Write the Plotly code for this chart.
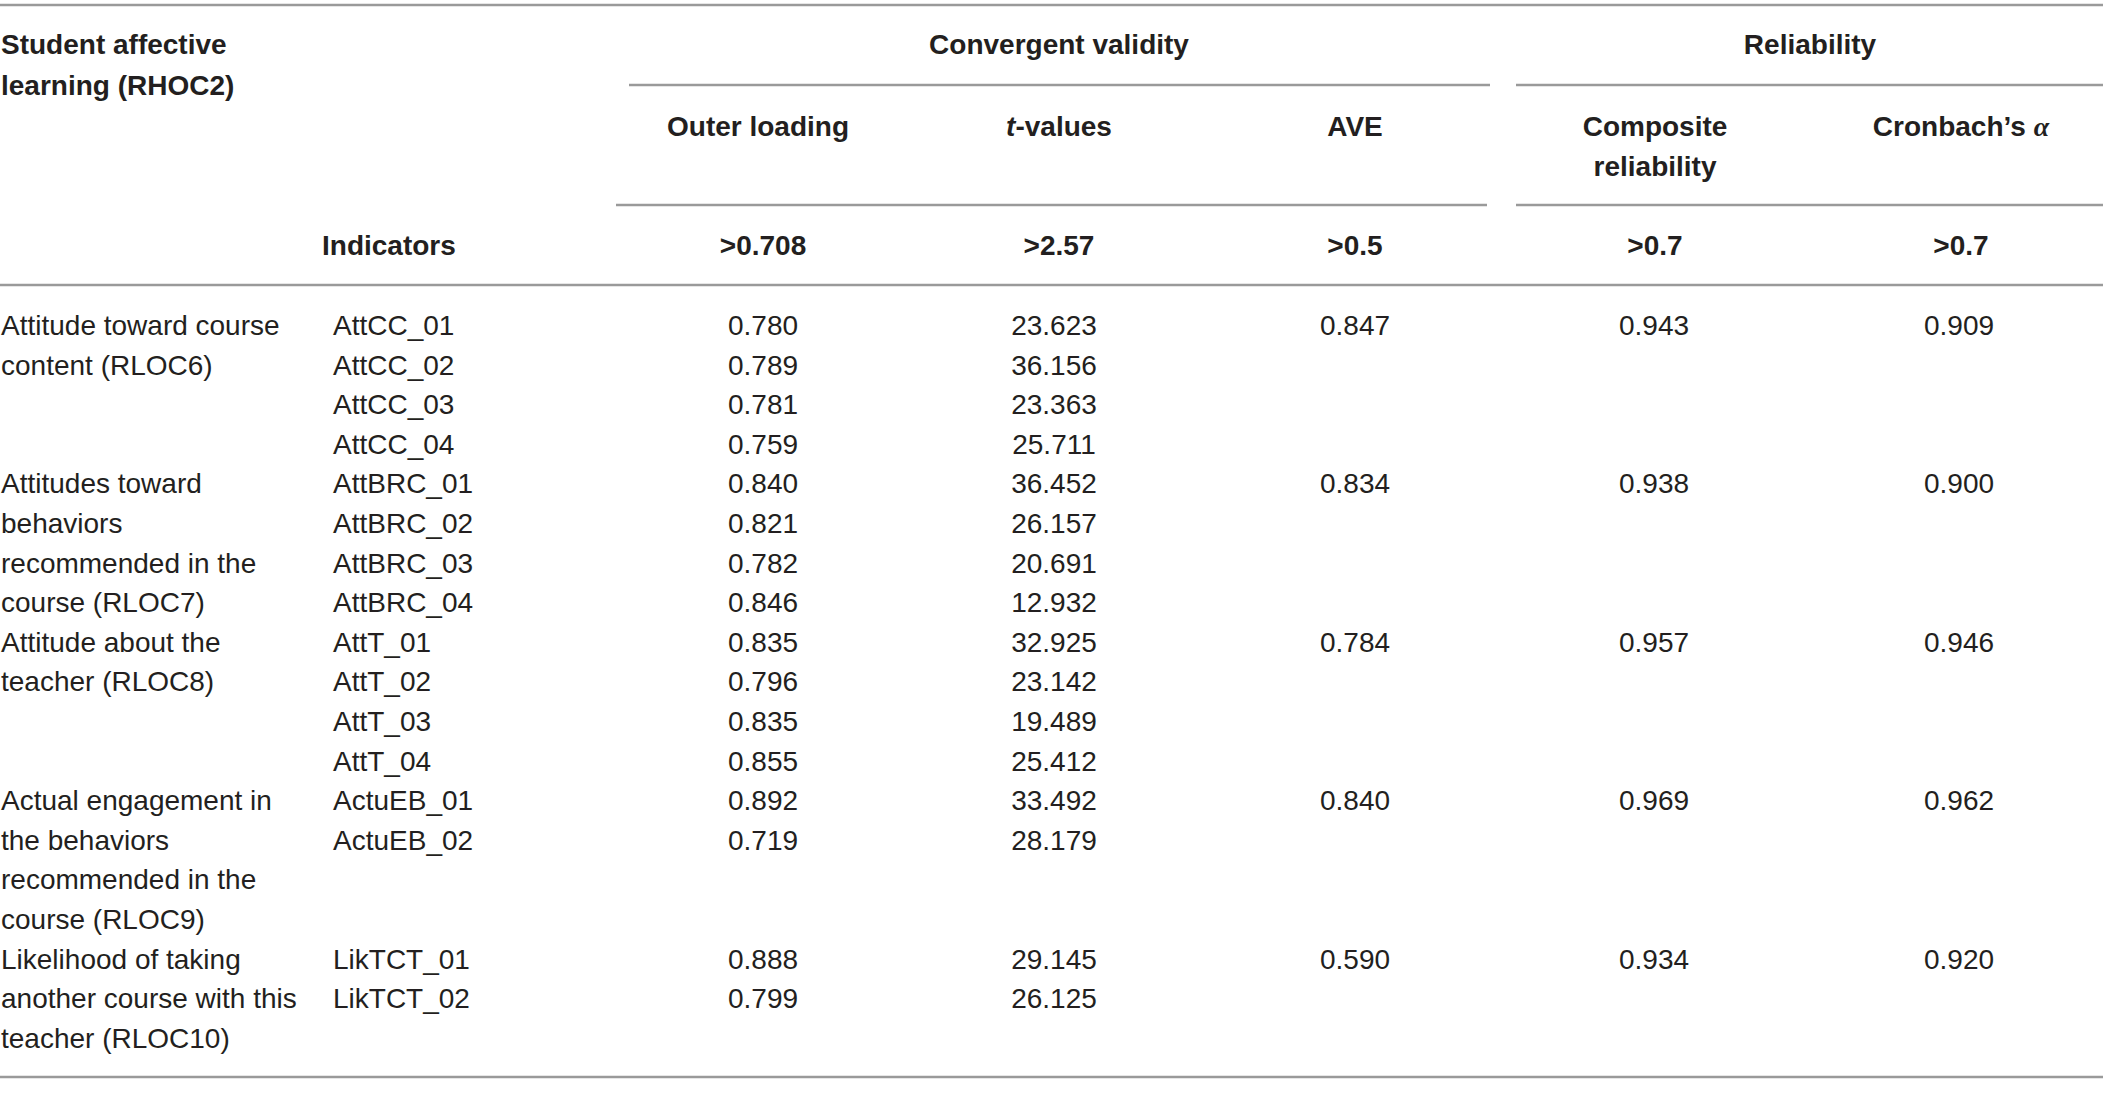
import plotly.graph_objects as go

# table content
constructs = [
    ["Attitude toward course", "content (RLOC6)"],
    ["Attitudes toward", "behaviors", "recommended in the", "course (RLOC7)"],
    ["Attitude about the", "teacher (RLOC8)"],
    ["Actual engagement in", "the behaviors", "recommended in the", "course (RLOC9)"],
    ["Likelihood of taking", "another course with this", "teacher (RLOC10)"],
]
indicators = [
    ["AttCC_01", "AttCC_02", "AttCC_03", "AttCC_04"],
    ["AttBRC_01", "AttBRC_02", "AttBRC_03", "AttBRC_04"],
    ["AttT_01", "AttT_02", "AttT_03", "AttT_04"],
    ["ActuEB_01", "ActuEB_02"],
    ["LikTCT_01", "LikTCT_02"],
]
outer_loading = [
    [0.780, 0.789, 0.781, 0.759],
    [0.840, 0.821, 0.782, 0.846],
    [0.835, 0.796, 0.835, 0.855],
    [0.892, 0.719],
    [0.888, 0.799],
]
t_values = [
    [23.623, 36.156, 23.363, 25.711],
    [36.452, 26.157, 20.691, 12.932],
    [32.925, 23.142, 19.489, 25.412],
    [33.492, 28.179],
    [29.145, 26.125],
]
ave = [0.847, 0.834, 0.784, 0.840, 0.590]
composite = [0.943, 0.938, 0.957, 0.969, 0.934]
cronbach = [0.909, 0.900, 0.946, 0.962, 0.920]
thresholds = [">0.708", ">2.57", ">0.5", ">0.7", ">0.7"]

# page geometry (pixels)
W, H = 2103, 1097
ROW0, ROWH = 328, 39.6
TXT = "#231f20"
RULE = "#9a9a9a"
FONT = "Liberation Sans, Arial, sans-serif"
x_construct, x_ind = 1, 333
x_cols = [763, 1054, 1355, 1654, 1959]  # loading, t, AVE, CR, alpha
x_head = [758, 1059, 1355, 1655, 1961]

fig = go.Figure()


def add_text(xs, ys, texts, pos, bold=False):
    fig.add_trace(go.Scatter(
        x=xs, y=ys, text=texts, mode="text", textposition=pos,
        textfont=dict(family=FONT, size=28, color=TXT,
                      weight="bold" if bold else "normal"),
        hoverinfo="skip", showlegend=False))


# body rows
cx, cy, ct = [], [], []
ix, iy, it = [], [], []
col_x = [[] for _ in range(5)]
col_y = [[] for _ in range(5)]
col_t = [[] for _ in range(5)]
row = 0
for b in range(len(constructs)):
    for k, line in enumerate(constructs[b]):
        cx.append(x_construct); cy.append(ROW0 + (row + k) * ROWH); ct.append(line)
    for k, name in enumerate(indicators[b]):
        y = ROW0 + (row + k) * ROWH
        ix.append(x_ind); iy.append(y); it.append(name)
        col_x[0].append(x_cols[0]); col_y[0].append(y); col_t[0].append(f"{outer_loading[b][k]:.3f}")
        col_x[1].append(x_cols[1]); col_y[1].append(y); col_t[1].append(f"{t_values[b][k]:.3f}")
    y0 = ROW0 + row * ROWH
    for c, vals in zip([2, 3, 4], [ave, composite, cronbach]):
        col_x[c].append(x_cols[c]); col_y[c].append(y0); col_t[c].append(f"{vals[b]:.3f}")
    row += max(len(constructs[b]), len(indicators[b]))

add_text(cx, cy, ct, "middle right")
add_text(ix, iy, it, "middle right")
for c in range(5):
    add_text(col_x[c], col_y[c], col_t[c], "middle center")

# header
add_text([x_construct, x_construct], [47, 88],
         ["Student affective", "learning (RHOC2)"], "middle right", bold=True)
add_text([322], [248], ["Indicators"], "middle right", bold=True)
add_text([1059, 1810], [47, 47], ["Convergent validity", "Reliability"],
         "middle center", bold=True)
add_text(x_head + [x_head[3]], [129, 129, 129, 129, 129, 169],
         ["Outer loading", "<i>t</i>-values", "AVE", "Composite",
          "Cronbach\u2019s <span style='font-family:Liberation Serif'><i>\u03b1</i></span>",
          "reliability"],
         "middle center", bold=True)
add_text([763] + x_head[1:], [248] * 5, thresholds, "middle center", bold=True)

# rules
rules = [(0, W, 5), (629, 1490, 85), (1516, W, 85), (616, 1487, 205),
         (1516, W, 205), (0, W, 285), (0, W, 1077)]
for x0, x1, y in rules:
    fig.add_shape(type="line", x0=x0, x1=x1, y0=y, y1=y,
                  line=dict(color=RULE, width=2.5))

fig.update_layout(
    width=W, height=H, margin=dict(l=0, r=0, t=0, b=0),
    paper_bgcolor="white", plot_bgcolor="white",
    xaxis=dict(range=[0, W], visible=False, fixedrange=True),
    yaxis=dict(range=[H, 0], visible=False, fixedrange=True),
)

fig.write_html("out.html", config={"displayModeBar": False},
               post_script="document.body.style.margin='0';document.body.style.overflow='hidden';")
